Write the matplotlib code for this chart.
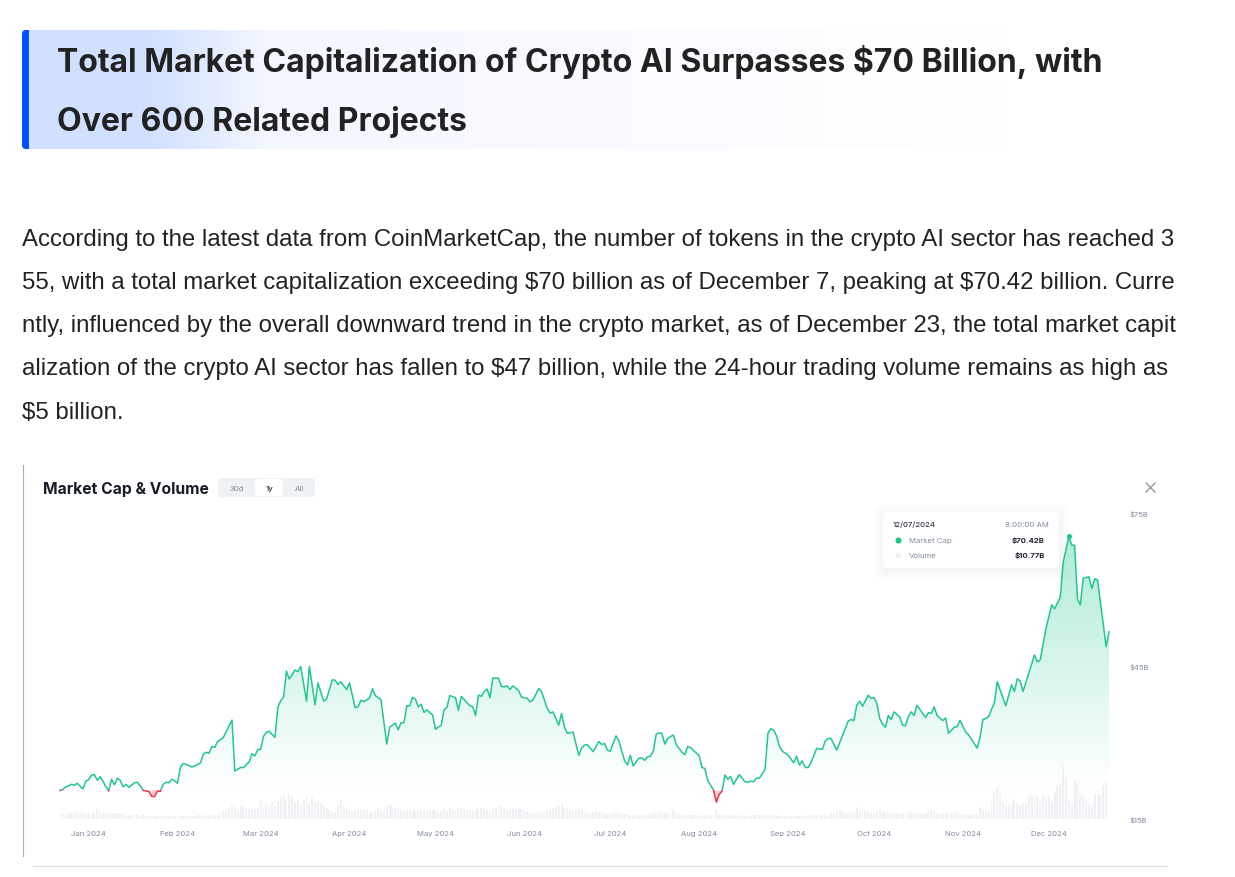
import numpy as np
import pandas as pd
import matplotlib
matplotlib.use('Agg')
import matplotlib.pyplot as plt
from matplotlib.patches import FancyBboxPatch, Rectangle
from matplotlib.path import Path
import matplotlib.dates as mdates

plt.rcParams['text.parse_math'] = False

# Text of the page
heading_lines = ['Total Market Capitalization of Crypto AI Surpasses $70 Billion, with',
                 'Over 600 Related Projects']
body_lines = ['According to the latest data from CoinMarketCap, the number of tokens in the crypto AI sector has reached 3',
              '55, with a total market capitalization exceeding $70 billion as of December 7, peaking at $70.42 billion. Curre',
              'ntly, influenced by the overall downward trend in the crypto market, as of December 23, the total market capit',
              'alization of the crypto AI sector has fallen to $47 billion, while the 24-hour trading volume remains as high as',
              '$5 billion.']

# Market cap in $B (days counted from start_date)
start_date = '2023-12-21'
days_a = [0, 1, 2, 3, 4, 5, 6, 8, 9, 10, 11, 12, 13, 14, 15, 16, 17, 18, 19, 20,
          21, 22, 23, 24, 26, 27, 28, 29, 30, 31, 32, 33, 34, 35, 36, 37, 38, 39, 40, 41,
          42, 43, 44, 46, 47, 49, 50, 51, 52, 53, 54, 55, 57, 60, 61, 63, 64, 66, 67, 68,
          69, 70, 71, 72, 73, 75, 76, 77, 78, 79, 80, 82, 83, 84, 86, 87, 89, 90, 92, 93,
          95, 96, 97, 98, 100, 101, 103, 104, 105, 106, 108, 109, 110, 112, 114, 115, 117, 118, 119, 120,
          121, 122, 123, 124, 125]
caps_a = [20.6, 20.8, 21.3, 21.5, 21.8, 21.6, 22.0, 20.9, 22.4, 22.7, 23.6, 23.7, 22.6, 23.3, 22.4, 21.3, 20.5, 22.8, 21.7, 23.0,
          22.6, 21.3, 21.8, 21.2, 22.1, 22.2, 21.5, 20.6, 20.5, 20.4, 19.4, 19.4, 20.5, 20.4, 21.8, 22.2, 22.1, 22.8, 22.5, 22.0,
          25.1, 25.9, 25.7, 25.2, 25.4, 26.0, 27.7, 28.1, 27.9, 29.2, 29.05, 30.2, 31.0, 34.4, 24.4, 25.1, 25.1, 26.2, 27.8, 27.35,
          28.65, 28.65, 31.2, 32.0, 32.2, 31.0, 36.9, 38.2, 38.9, 44.0, 42.45, 44.2, 43.9, 44.9, 38.1, 44.9, 37.4, 41.7, 38.1, 38.5,
          42.3, 42.2, 41.4, 41.9, 40.4, 41.7, 36.8, 37.0, 38.3, 38.0, 38.7, 40.55, 39.2, 38.4, 29.7, 33.0, 33.8, 32.5, 33.9, 33.9,
          37.2, 37.2, 38.85, 38.5, 37.0]
days_b = [126, 127, 128, 130, 131, 133, 134, 135, 136, 138, 139, 140, 143, 144, 145, 146, 147, 148, 149, 150,
          151, 153, 154, 155, 156, 157, 158, 160, 161, 163, 164, 165, 167, 168, 170, 171, 172, 174, 175, 176,
          177, 179, 181, 182, 183, 184, 186, 188, 189, 190, 191, 192, 194, 195, 197, 198, 199, 200, 202, 203,
          204, 205, 206, 207, 208, 209, 210, 211, 212, 214, 215, 217, 218, 219, 220, 223, 224, 225, 226, 228,
          229, 230, 231, 232, 233, 234, 235, 237, 239, 240, 241, 242, 243, 244, 246, 247, 248, 249, 250, 251,
          252, 254, 256, 257, 258]
caps_b = [37.5, 35.9, 36.4, 35.4, 32.6, 33.4, 36.4, 36.9, 39.2, 38.8, 36.3, 39.05, 37.2, 37.0, 35.3, 39.3, 39.05, 40.0, 40.5, 38.8,
          42.64, 42.64, 41.0, 40.9, 41.1, 40.4, 41.1, 40.2, 38.9, 38.65, 38.0, 38.3, 40.6, 40.0, 36.7, 35.8, 36.0, 33.4, 35.7, 33.0,
          31.8, 32.05, 27.5, 28.9, 29.5, 29.6, 28.2, 30.2, 29.6, 29.8, 28.5, 28.3, 31.3, 30.3, 26.4, 25.6, 27.5, 25.4, 26.9, 27.0,
          26.5, 27.2, 27.3, 28.3, 31.6, 31.9, 31.8, 29.7, 30.8, 31.5, 29.6, 28.1, 27.6, 29.2, 29.0, 27.4, 25.1, 24.9, 22.5, 20.7,
          18.3, 19.8, 20.5, 23.6, 22.8, 23.3, 21.8, 23.7, 22.3, 22.2, 22.4, 22.3, 23.0, 23.0, 24.7, 31.8, 32.7, 32.45, 31.3, 29.3,
          28.3, 27.55, 26.0, 27.3, 25.6]
days_c = [259, 260, 261, 262, 264, 266, 267, 268, 269, 271, 275, 276, 277, 278, 279, 280, 282, 283, 284, 285,
          286, 287, 288, 289, 290, 291, 293, 294, 295, 296, 297, 298, 299, 302, 303, 304, 305, 306, 308, 309,
          310, 312, 313, 314, 316, 317, 320, 321, 322, 323, 324, 326, 327, 330, 332, 333, 334, 335, 336, 340,
          341, 342, 343, 344, 346, 347, 349, 350, 351, 352, 353, 354, 355, 356, 357, 359, 360, 361, 362, 365,
          366]
caps_c = [26.4, 25.1, 25.1, 26.0, 28.85, 28.65, 30.3, 30.8, 30.8, 28.5, 34.2, 34.5, 34.3, 37.3, 38.1, 37.1, 39.25, 38.65, 38.8, 37.7,
          34.7, 33.6, 33.0, 35.3, 34.5, 36.0, 35.0, 33.4, 33.3, 35.1, 36.0, 35.3, 37.3, 34.9, 35.85, 35.7, 37.0, 35.3, 34.3, 34.8,
          31.8, 33.0, 33.1, 34.35, 32.05, 31.5, 28.9, 31.0, 34.5, 34.7, 35.1, 37.8, 41.9, 37.2, 41.3, 40.0, 42.5, 42.05, 40.0, 47.15,
          45.8, 46.2, 49.3, 52.3, 57.0, 56.2, 58.5, 65.3, 67.9, 70.42, 68.7, 68.7, 58.1, 57.0, 62.2, 62.5, 60.2, 62.1, 61.9, 48.8,
          51.7]
base_cap = 20.6

# Daily volume in $B, one value per day from start_date
volumes = [1.3, 1.4, 1.4, 1.5, 1.7, 1.6, 1.8, 1.6, 1.5, 1.4,
           1.8, 1.4, 1.9, 2.7, 1.9, 1.6, 1.6, 1.5, 1.7, 1.6,
           1.7, 1.6, 1.3, 1.1, 1.0, 1.0, 0.9, 1.0, 0.9, 1.0,
           0.9, 0.8, 0.9, 0.8, 0.8, 0.9, 0.8, 0.9, 0.8, 0.9,
           0.8, 0.9, 0.8, 0.8, 0.9, 0.9, 0.8, 0.9, 1.0, 1.0,
           1.1, 0.9, 1.1, 1.2, 1.3, 1.3, 1.4, 2.1, 2.4, 2.9,
           3.7, 3.3, 2.4, 3.4, 3.3, 2.9, 2.4, 2.7, 2.8, 3.0,
           4.8, 3.0, 4.2, 3.3, 4.5, 3.6, 4.8, 6.0, 6.3, 4.9,
           6.8, 6.1, 4.6, 5.5, 3.8, 5.2, 5.7, 4.2, 6.0, 4.5,
           5.0, 4.3, 3.7, 2.6, 2.4, 1.8, 1.9, 3.5, 5.2, 3.6,
           2.6, 2.3, 2.2, 2.4, 2.6, 2.4, 2.5, 2.3, 2.0, 2.0,
           2.5, 2.9, 2.7, 2.5, 3.4, 3.9, 3.3, 3.1, 2.7, 2.5,
           2.2, 2.2, 2.3, 2.2, 2.4, 2.3, 2.4, 2.5, 2.2, 2.4,
           2.4, 2.3, 2.2, 2.4, 2.6, 2.2, 2.9, 2.4, 2.3, 2.9,
           3.0, 2.8, 2.4, 2.5, 2.2, 2.2, 2.9, 3.0, 2.7, 2.5,
           1.9, 2.8, 3.0, 3.4, 3.6, 3.0, 2.4, 2.6, 2.9, 2.7,
           2.7, 2.7, 2.2, 1.9, 1.7, 1.6, 1.8, 1.7, 2.2, 1.9,
           2.3, 2.4, 2.6, 3.2, 3.4, 4.1, 3.0, 2.7, 2.3, 1.9,
           2.2, 2.6, 2.7, 1.9, 1.5, 1.4, 1.9, 2.1, 1.9, 1.5,
           1.3, 1.3, 1.4, 1.6, 1.8, 1.6, 1.3, 1.4, 1.3, 1.2,
           1.2, 1.2, 1.4, 1.3, 1.2, 1.1, 1.1, 1.5, 1.7, 1.8,
           1.6, 1.6, 1.4, 1.3, 2.6, 1.6, 1.4, 1.2, 1.2, 1.0,
           1.0, 1.1, 1.0, 0.9, 1.0, 0.9, 1.1, 1.2, 1.1, 2.5,
           1.3, 1.1, 1.0, 1.0, 1.0, 0.9, 1.0, 0.9, 1.0, 0.9,
           0.9, 1.0, 1.1, 1.0, 1.0, 1.2, 1.3, 1.4, 1.2, 1.0,
           1.0, 0.9, 0.9, 0.9, 0.9, 0.8, 0.9, 0.8, 0.9, 1.0,
           0.8, 0.8, 1.0, 1.1, 1.1, 1.0, 1.1, 1.0, 1.2, 1.5,
           1.4, 1.8, 2.3, 1.9, 1.6, 1.7, 1.7, 1.9, 3.2, 2.1,
           2.5, 2.4, 2.0, 1.7, 1.6, 1.9, 2.7, 2.1, 1.9, 1.8,
           1.5, 1.5, 2.0, 1.7, 1.5, 1.4, 1.5, 1.9, 1.5, 1.4,
           1.5, 1.5, 1.6, 2.1, 2.4, 2.2, 1.7, 1.4, 1.3, 1.5,
           1.4, 1.5, 1.6, 1.9, 1.4, 1.3, 1.3, 1.2, 1.2, 1.5,
           1.4, 3.2, 2.4, 2.1, 1.9, 4.6, 7.4, 8.7, 6.8, 4.7,
           3.6, 3.8, 4.0, 5.5, 4.2, 3.8, 4.0, 4.1, 6.3, 6.5,
           6.5, 6.3, 4.5, 6.1, 5.6, 6.2, 4.5, 7.2, 8.8, 9.5,
           14.3, 11.0, 5.5, 3.9, 10.3, 9.5, 6.8, 6.4, 4.8, 4.0,
           3.6, 6.8, 6.6, 6.7, 9.3, 10.2]

month_ticks = ['2023-12-31', '2024-01-31', '2024-02-29', '2024-03-31', '2024-04-30', '2024-05-31',
               '2024-06-30', '2024-07-31', '2024-08-31', '2024-09-30', '2024-10-31', '2024-11-30']
month_labels = ['Jan 2024', 'Feb 2024', 'Mar 2024', 'Apr 2024', 'May 2024', 'Jun 2024',
                'Jul 2024', 'Aug 2024', 'Sep 2024', 'Oct 2024', 'Nov 2024', 'Dec 2024']
cap_ticks = [15, 45, 75]
cap_tick_labels = ['$15B', '$45B', '$75B']

green = '#16c784'
red = '#ea3943'
grey_text = '#808a9d'
W, H = 1235, 878

fig = plt.figure(figsize=(W / 100, H / 100), dpi=100, facecolor='white')

# Full page layer, in pixels
page = fig.add_axes([0, 0, 1, 1])
page.set_xlim(0, W)
page.set_ylim(H, 0)
page.axis('off')

# Heading band
page.add_patch(FancyBboxPatch((22, 31), 16, 119, boxstyle='round,pad=0,rounding_size=4',
                              fc='#0052ff', ec='none', zorder=1))
stops_x = [0, 120, 235, 500, 980]
stops_c = [[0.82, 0.88, 1.0], [0.82, 0.88, 1.0], [0.95, 0.965, 1.0], [0.975, 0.98, 1.0], [1.0, 1.0, 1.0]]
xs = np.arange(0, 981)
band = np.stack([np.interp(xs, stops_x, [c[i] for c in stops_c]) for i in range(3)], axis=-1)[None, :, :]
page.imshow(band, extent=(29, 1010, 150, 31), aspect='auto', zorder=2, interpolation='bilinear')
page.set_xlim(0, W)
page.set_ylim(H, 0)

for line, y in zip(heading_lines, [72, 131]):
    page.text(57, y, line, family='Inter', weight='bold', fontsize=23.04, color='#222222', va='baseline', zorder=3)
for line, y in zip(body_lines, [246, 289, 332, 375, 419]):
    page.text(22.5, y, line, family='Liberation Sans', fontsize=17.28, color='#222222', va='baseline')

# Screenshot frame
page.plot([22.5, 22.5], [466, 857], color='#a8a4cc', lw=0.8)
page.plot([33, 1167], [867, 867], color='#dcdcdc', lw=0.8)

# Chart header
page.text(43, 490, 'Market Cap & Volume', family='Inter', weight='bold', fontsize=11.3, color='#171c26', va='center')
page.add_patch(FancyBboxPatch((218, 479), 97, 19, boxstyle='round,pad=0,rounding_size=4', fc='#eff2f5', ec='none'))
page.add_patch(FancyBboxPatch((255, 480), 28, 17, boxstyle='round,pad=0,rounding_size=3', fc='white', ec='none'))
for label, x, col in [('30d', 236.5, grey_text), ('1y', 269, '#222531'), ('All', 299, grey_text)]:
    page.text(x, 489, label, family='Inter', fontsize=5.6, color=col, ha='center', va='center',
              weight='medium' if label == '1y' else 'normal')
page.plot([1146, 1155], [484, 493], color='#8a8f98', lw=0.9)
page.plot([1146, 1155], [493, 484], color='#8a8f98', lw=0.9)

# Chart axes: d0 sits at x=60, last day at x=1109, $15B at y=820 and $75B at y=514
ax = fig.add_axes([60 / W, (H - 820) / H, (1109 - 60) / W, (820 - 514) / H])
ax.patch.set_alpha(0)
dates = pd.Timestamp(start_date) + pd.to_timedelta(np.array(days_a + days_b + days_c), unit='D')
caps = np.array(caps_a + caps_b + caps_c)
x_num = mdates.date2num(dates)
x_lim = (x_num[0], x_num[-1])

# Volume bars on their own scale, 3.7 px per $B
vol_ax = fig.add_axes(ax.get_position(), sharex=ax)
vol_ax.patch.set_alpha(0)
vol_dates = pd.Timestamp(start_date) + pd.to_timedelta(np.arange(len(volumes)), unit='D')
vol_ax.bar(mdates.date2num(vol_dates), volumes, width=0.68, color='#f0f1f5', linewidth=0)
vol_ax.set_ylim(0, 306 / 3.7)
vol_ax.axis('off')

# Gradient under the green part of the line
green_fill = ax.fill_between(x_num, caps, base_cap, where=caps >= base_cap, interpolate=True,
                             color='none', linewidth=0)
grad = np.zeros((256, 1, 4))
grad[..., :3] = matplotlib.colors.to_rgb(green)
grad[:, 0, 3] = np.linspace(0.36, 0.0, 256)
im = ax.imshow(grad, extent=(x_lim[0], x_lim[1], base_cap, 72), aspect='auto', zorder=2, interpolation='bilinear')
im.set_clip_path(Path.make_compound_path(*green_fill.get_paths()), transform=ax.transData)
ax.fill_between(x_num, caps, base_cap, where=caps < base_cap, interpolate=True, color=red, alpha=0.25,
                linewidth=0, zorder=2)

ax.axhline(base_cap, color='#f8f8f8', lw=0.7, zorder=1)

# Line, split at the first value into green and red
clip_up = Rectangle((x_lim[0] - 2, base_cap), x_lim[1] - x_lim[0] + 4, 60, transform=ax.transData)
clip_down = Rectangle((x_lim[0] - 2, 0), x_lim[1] - x_lim[0] + 4, base_cap, transform=ax.transData)
line_up, = ax.plot(x_num, caps, color='#22c78a', lw=1.1, zorder=3, solid_joinstyle='round')
line_up.set_clip_path(clip_up)
line_down, = ax.plot(x_num, caps, color=red, lw=1.1, zorder=3, solid_joinstyle='round')
line_down.set_clip_path(clip_down)

peak = np.argmax(caps)
ax.plot(x_num[peak], caps[peak], 'o', color=green, ms=3.6, mew=0, zorder=4, clip_on=False)

ax.set_xlim(*x_lim)
ax.set_ylim(15, 75)
ax.set_xticks(mdates.date2num(pd.to_datetime(month_ticks)))
ax.set_xticklabels(month_labels, family='Inter', fontsize=5.5, color=grey_text)
ax.yaxis.tick_right()
ax.set_yticks(cap_ticks)
ax.set_yticklabels(cap_tick_labels, family='Inter', fontsize=5.5, color=grey_text)
ax.tick_params(axis='x', length=0, pad=8.2)
ax.tick_params(axis='y', length=0, pad=15)
for s in ax.spines.values():
    s.set_visible(False)

# Tooltip, drawn on a top layer in pixels
tip = fig.add_axes([0, 0, 1, 1])
tip.set_xlim(0, W)
tip.set_ylim(H, 0)
tip.axis('off')
for grow, alpha in [(9, 0.006), (7, 0.008), (5, 0.01), (3, 0.012), (1, 0.015)]:
    tip.add_patch(FancyBboxPatch((883 - grow, 513 - grow + 3), 176 + 2 * grow, 56 + 2 * grow,
                                 boxstyle='round,pad=0,rounding_size=5', fc='#58667e', ec='none', alpha=alpha))
tip.add_patch(FancyBboxPatch((883, 513), 176, 56, boxstyle='round,pad=0,rounding_size=4', fc='white', ec='none'))
tip.text(893, 525, '12/07/2024', family='Inter', weight='medium', fontsize=5.6, color='#333743', va='center')
tip.text(1049, 525, '8:00:00 AM', family='Inter', fontsize=5.6, color=grey_text, va='center', ha='right')
tip.plot(897.5, 540.5, 'o', color=green, ms=4.4, mew=0)
tip.plot(897.5, 555.5, 'o', color='#eff2f5', ms=4.4, mew=0)
tip.text(909, 541, 'Market Cap', family='Inter', fontsize=5.6, color=grey_text, va='center')
tip.text(909, 556, 'Volume', family='Inter', fontsize=5.6, color=grey_text, va='center')
tip.text(1045, 541, '$70.42B', family='Inter', weight='bold', fontsize=5.6, color='#222531', va='center', ha='right')
tip.text(1045, 556, '$10.77B', family='Inter', weight='bold', fontsize=5.6, color='#222531', va='center', ha='right')

fig.savefig('out.png', dpi=100)
